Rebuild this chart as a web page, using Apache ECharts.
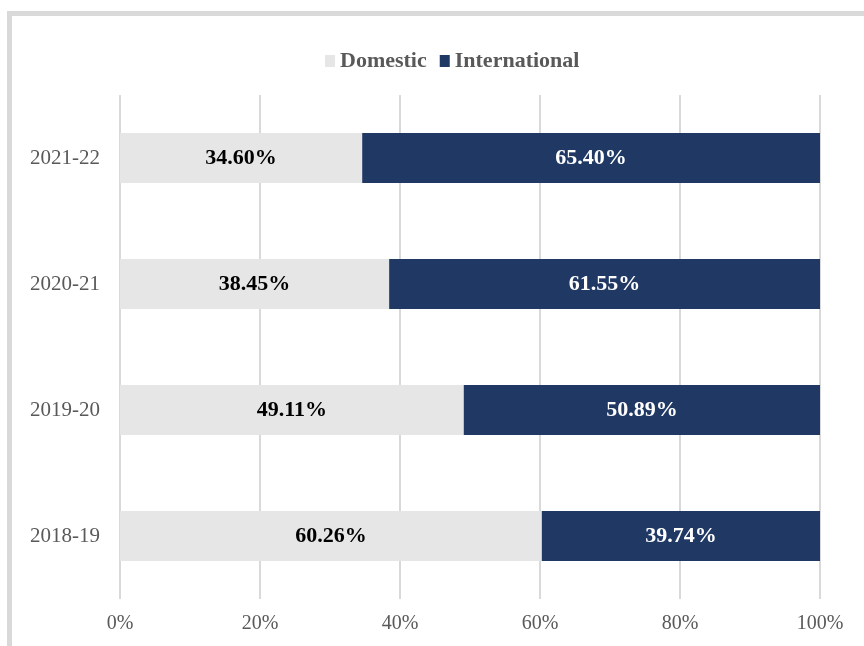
<!DOCTYPE html>
<html><head><meta charset="utf-8">
<script src="https://cdn.jsdelivr.net/npm/echarts@6/dist/echarts.min.js"></script>
<style>html,body{margin:0;padding:0;background:#fff}#c{width:864px;height:646px}</style>
</head><body><div id="c"></div>
<script>
var categories = ['2018-19', '2019-20', '2020-21', '2021-22'];
var domestic = [60.26, 49.11, 38.45, 34.60];
var international = [39.74, 50.89, 61.55, 65.40];
var xTicks = [0, 20, 40, 60, 80, 100];

var chart = echarts.init(document.getElementById('c'), null, {renderer: 'canvas'});
var serif = '"Liberation Serif", "Times New Roman", serif';
chart.setOption({
  animation: false,
  backgroundColor: '#fff',
  graphic: [{
    type: 'rect', left: 7, top: 11, z: -1,
    shape: {x: 0, y: 0, width: 900, height: 700},
    style: {fill: 'none', stroke: '#d9d9d9', lineWidth: 5}
  }],
  legend: {
    top: 45, left: 320, itemWidth: 10, itemHeight: 12, itemGap: 13,
    icon: 'rect',
    textStyle: {fontFamily: serif, fontWeight: 'bold', fontSize: 22, color: '#595959', padding: [0, 0, 0, 0]},
    data: ['Domestic', 'International']
  },
  grid: {left: 120, right: 44, top: 95, bottom: 47, containLabel: false},
  xAxis: {
    type: 'value', min: 0, max: 100, interval: 20,
    axisLine: {show: false}, axisTick: {show: false},
    splitLine: {lineStyle: {color: '#d9d9d9', width: 2}},
    axisLabel: {formatter: function(v){ return xTicks.indexOf(v) >= 0 ? v + '%' : ''; },
      fontFamily: serif, fontSize: 20, color: '#595959', margin: 15}
  },
  yAxis: {
    type: 'category', data: categories,
    axisLine: {show: false}, axisTick: {show: false},
    axisLabel: {fontFamily: serif, fontSize: 21, color: '#595959', margin: 20}
  },
  series: [{
    name: 'Domestic', type: 'bar', stack: 's', barWidth: 50, data: domestic,
    itemStyle: {color: '#e7e6e6'},
    label: {show: true, position: 'inside', formatter: function(p){ return p.value.toFixed(2) + '%'; },
      fontFamily: serif, fontWeight: 'bold', fontSize: 22, color: '#000'}
  }, {
    name: 'International', type: 'bar', stack: 's', barWidth: 50, data: international,
    itemStyle: {color: '#203864'},
    label: {show: true, position: 'inside', formatter: function(p){ return p.value.toFixed(2) + '%'; },
      fontFamily: serif, fontWeight: 'bold', fontSize: 22, color: '#fff'}
  }]
});
</script></body></html>
